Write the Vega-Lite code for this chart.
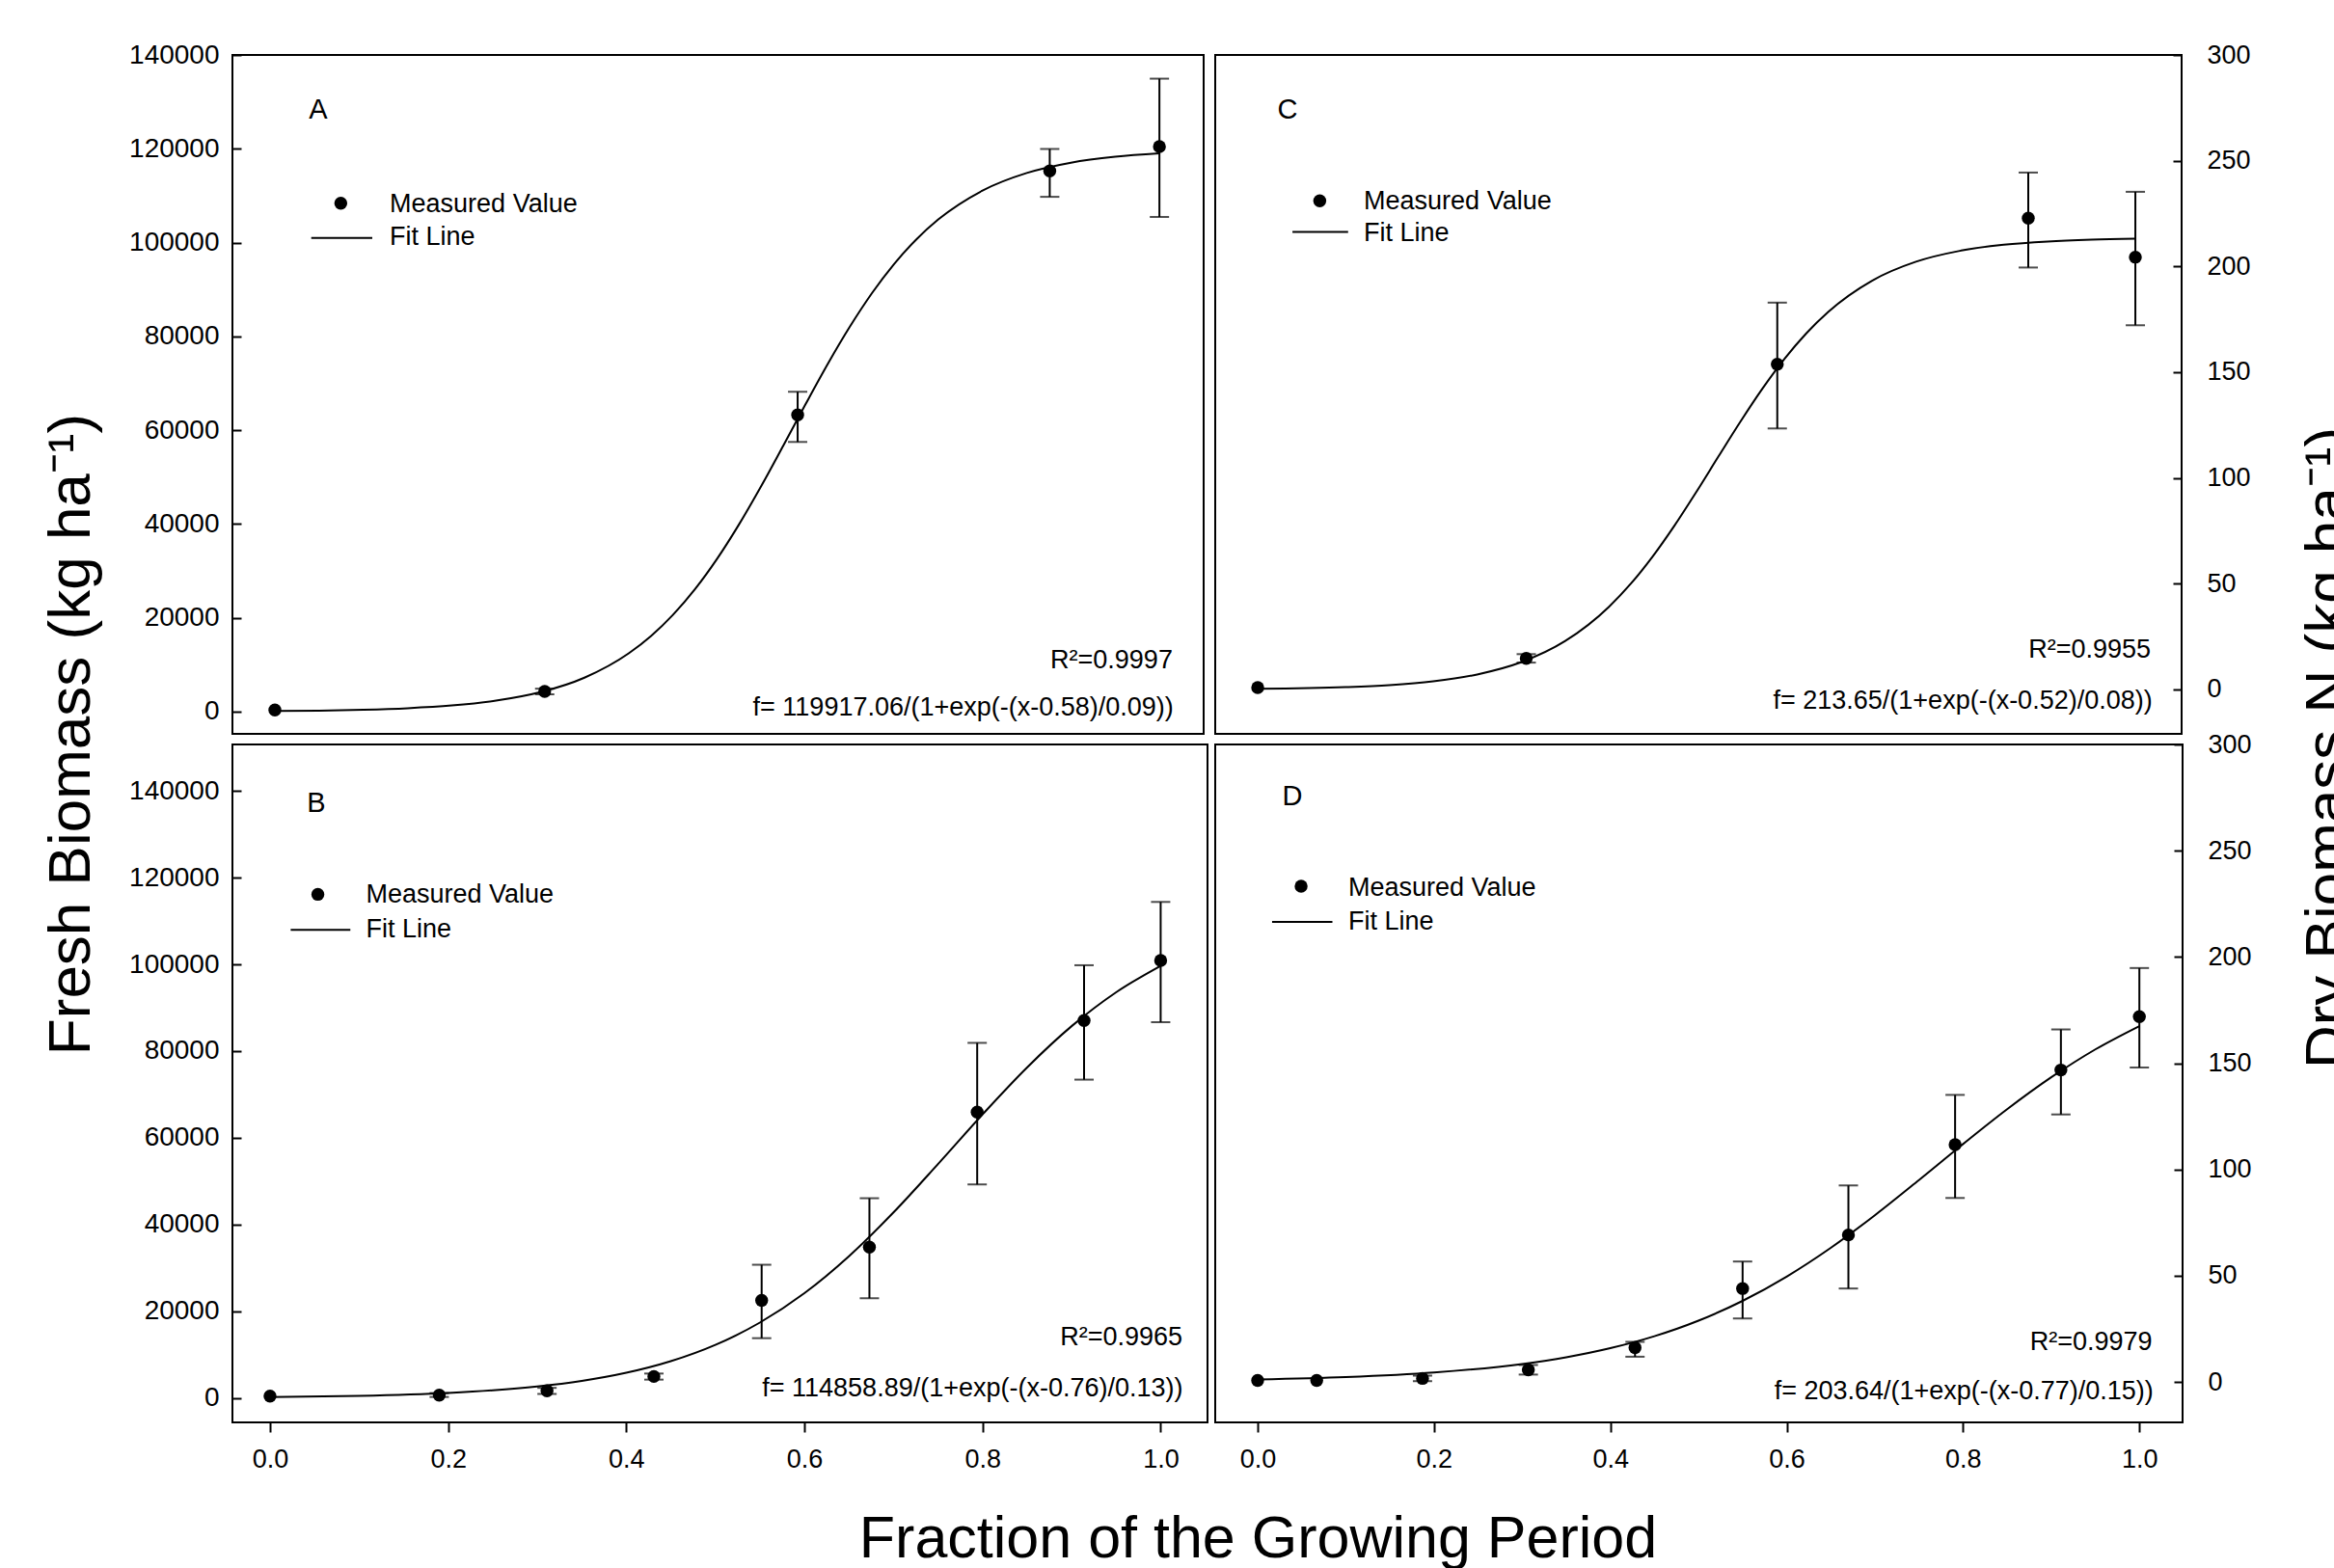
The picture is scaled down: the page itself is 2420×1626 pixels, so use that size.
{
  "$schema": "https://vega.github.io/schema/vega-lite/v6.json",
  "background": "white",
  "padding": {"left": 41, "top": 42, "right": 0, "bottom": 0},
  "columns": 2,
  "spacing": {"row": 11, "column": 8},
  "bounds": "flush",
  "config": {
    "font": "Liberation Sans",
    "view": {"stroke": "black", "strokeWidth": 2},
    "axis": {
      "grid": false, "domain": false, "labelFont": "Liberation Sans", "labelFontSize": 27,
      "labelColor": "black", "tickColor": "black", "tickWidth": 2, "labelFlush": false,
      "labelOverlap": false, "labelBound": false,
      "titleFont": "Liberation Sans", "titleFontWeight": "normal", "titleFontSize": 62, "titleColor": "black"
    }
  },
  "datasets": {
    "fitA": [
      {"x":0,"y":127},{"x":0.05,"y":229},{"x":0.1,"y":411},{"x":0.15,"y":735},{"x":0.2,"y":1315},{"x":0.25,"y":2342},{"x":0.3,"y":4147},{"x":0.35,"y":7251},{"x":0.4,"y":12433},{"x":0.425,"y":16096},{"x":0.45,"y":20636},{"x":0.475,"y":26131},{"x":0.5,"y":32613},{"x":0.525,"y":40012},{"x":0.55,"y":48160},{"x":0.575,"y":56803},{"x":0.6,"y":65564},{"x":0.625,"y":74105},{"x":0.65,"y":82060},{"x":0.675,"y":89216},{"x":0.7,"y":95423},{"x":0.725,"y":100647},{"x":0.75,"y":104930},{"x":0.8,"y":111087},{"x":0.85,"y":114836},{"x":0.9,"y":117038},{"x":0.95,"y":118297},{"x":1.0,"y":119010}
    ],
    "ptsA": [{"x":0,"y":350},{"x":0.305,"y":4300},{"x":0.591,"y":63270},{"x":0.876,"y":115270},{"x":1.0,"y":120470}],
    "errA": [{"x":0.305,"y":3700,"y2":4900},{"x":0.591,"y":57500,"y2":68200},{"x":0.876,"y":109760,"y2":119960},{"x":1.0,"y":105470,"y2":134950}],
    "tagA": [{"x":0.049,"y":128290,"label":"A"}],
    "legDotA": [{"x":0.0745,"y":108400}],
    "legLineA": [{"x":0.0411,"x2":0.1101,"y":101000}],
    "legTxtA": [{"x":0.1298,"y":108200,"label":"Measured Value"},{"x":0.1298,"y":101190,"label":"Fit Line"}],
    "statA": [{"x":1.015,"y":10835,"label":"R²=0.9997"},{"x":1.016,"y":720,"label":"f= 119917.06/(1+exp(-(x-0.58)/0.09))"}],

    "fitB": [
      {"x":0,"y":252},{"x":0.1,"y":559},{"x":0.2,"y":1238},{"x":0.25,"y":1836},{"x":0.3,"y":2718},{"x":0.35,"y":4008},{"x":0.4,"y":5878},{"x":0.45,"y":8553},{"x":0.5,"y":12309},{"x":0.55,"y":17443},{"x":0.6,"y":24216},{"x":0.65,"y":32732},{"x":0.7,"y":42826},{"x":0.75,"y":53985},{"x":0.8,"y":65417},{"x":0.85,"y":76235},{"x":0.9,"y":85747},{"x":0.95,"y":93562},{"x":1.0,"y":99652}
    ],
    "ptsB": [{"x":0,"y":490},{"x":0.19,"y":735},{"x":0.311,"y":1716},{"x":0.431,"y":5026},{"x":0.552,"y":22560},{"x":0.673,"y":34820},{"x":0.794,"y":65960},{"x":0.914,"y":87040},{"x":1.0,"y":100900}],
    "errB": [{"x":0.19,"y":300,"y2":1200},{"x":0.311,"y":1000,"y2":2400},{"x":0.431,"y":4300,"y2":5700},{"x":0.552,"y":13850,"y2":30770},{"x":0.673,"y":23050,"y2":46100},{"x":0.794,"y":49280,"y2":81900},{"x":0.914,"y":73430,"y2":99790},{"x":1.0,"y":86670,"y2":114380}],
    "tagB": [{"x":0.052,"y":137110,"label":"B"}],
    "legDotB": [{"x":0.0537,"y":116130}],
    "legLineB": [{"x":0.0232,"x2":0.0902,"y":107930}],
    "legTxtB": [{"x":0.1078,"y":116000,"label":"Measured Value"},{"x":0.1078,"y":107930,"label":"Fit Line"}],
    "statB": [{"x":1.0245,"y":14000,"label":"R²=0.9965"},{"x":1.025,"y":2222,"label":"f= 114858.89/(1+exp(-(x-0.76)/0.13))"}],

    "fitC": [
      {"x":0,"y":0.32},{"x":0.1,"y":1.12},{"x":0.15,"y":2.07},{"x":0.2,"y":3.84},{"x":0.25,"y":7.07},{"x":0.3,"y":12.84},{"x":0.35,"y":22.79},{"x":0.4,"y":38.97},{"x":0.425,"y":49.93},{"x":0.45,"y":62.86},{"x":0.475,"y":77.55},{"x":0.5,"y":93.54},{"x":0.525,"y":110.17},{"x":0.55,"y":126.62},{"x":0.575,"y":142.17},{"x":0.6,"y":156.19},{"x":0.625,"y":168.34},{"x":0.65,"y":178.5},{"x":0.7,"y":193.28},{"x":0.75,"y":202.24},{"x":0.8,"y":207.39},{"x":0.85,"y":210.25},{"x":0.9,"y":211.82},{"x":0.95,"y":212.67},{"x":1.0,"y":213.12}
    ],
    "ptsC": [{"x":0,"y":0.9},{"x":0.306,"y":14.7},{"x":0.592,"y":153.8},{"x":0.878,"y":222.8},{"x":1.0,"y":204.4}],
    "errC": [{"x":0.306,"y":12.7,"y2":16.7},{"x":0.592,"y":123.4,"y2":182.9},{"x":0.878,"y":199.5,"y2":244.4},{"x":1.0,"y":172.2,"y2":235.3}],
    "tagC": [{"x":0.034,"y":274,"label":"C"}],
    "legDotC": [{"x":0.0707,"y":231}],
    "legLineC": [{"x":0.0396,"x2":0.103,"y":216.3}],
    "legTxtC": [{"x":0.1209,"y":230.7,"label":"Measured Value"},{"x":0.1209,"y":215.7,"label":"Fit Line"}],
    "statC": [{"x":1.0176,"y":18.7,"label":"R²=0.9955"},{"x":1.0194,"y":-5.5,"label":"f= 213.65/(1+exp(-(x-0.52)/0.08))"}],

    "fitD": [
      {"x":0,"y":1.19},{"x":0.1,"y":2.31},{"x":0.2,"y":4.46},{"x":0.3,"y":8.5},{"x":0.35,"y":11.67},{"x":0.4,"y":15.94},{"x":0.45,"y":21.57},{"x":0.5,"y":28.89},{"x":0.55,"y":38.17},{"x":0.6,"y":49.6},{"x":0.65,"y":63.13},{"x":0.7,"y":78.48},{"x":0.75,"y":95.04},{"x":0.8,"y":111.96},{"x":0.85,"y":128.35},{"x":0.9,"y":143.36},{"x":0.95,"y":156.5},{"x":1.0,"y":167.49}
    ],
    "ptsD": [{"x":0,"y":0.75},{"x":0.067,"y":0.75},{"x":0.187,"y":1.7},{"x":0.307,"y":5.7},{"x":0.428,"y":16.2},{"x":0.55,"y":44.0},{"x":0.67,"y":69.2},{"x":0.791,"y":111.7},{"x":0.911,"y":146.8},{"x":1.0,"y":171.9}],
    "errD": [{"x":0.187,"y":0.4,"y2":3.0},{"x":0.307,"y":3.5,"y2":8.0},{"x":0.428,"y":11.9,"y2":18.9},{"x":0.55,"y":29.9,"y2":56.7},{"x":0.67,"y":44.0,"y2":92.5},{"x":0.791,"y":86.6,"y2":135.1},{"x":0.911,"y":125.9,"y2":165.9},{"x":1.0,"y":148.0,"y2":194.8}],
    "tagD": [{"x":0.0394,"y":275.5,"label":"D"}],
    "legDotD": [{"x":0.0493,"y":233.3}],
    "legLineD": [{"x":0.0164,"x2":0.0848,"y":216.5}],
    "legTxtD": [{"x":0.1028,"y":232.5,"label":"Measured Value"},{"x":0.1028,"y":216.5,"label":"Fit Line"}],
    "statD": [{"x":1.0147,"y":18.6,"label":"R²=0.9979"},{"x":1.016,"y":-4.5,"label":"f= 203.64/(1+exp(-(x-0.77)/0.15))"}]
  },
  "concat": [
    {
      "width": 1007, "height": 704,
      "encoding": {
        "x": {"field": "x", "type": "quantitative", "scale": {"domain": [-0.048, 1.05], "nice": false, "zero": false}, "axis": null},
        "y": {"field": "y", "type": "quantitative", "scale": {"domain": [-4730, 140000], "nice": false, "zero": false},
          "axis": {"orient": "left", "values": [0,20000,40000,60000,80000,100000,120000,140000], "format": "d", "tickSize": -9, "labelPadding": 23, "labelFontSize": 28,
            "title": "Fresh Biomass (kg ha⁻¹)", "titleAngle": 270, "titleX": -149, "titleY": 704, "titleAlign": "center", "titleBaseline": "alphabetic"}}
      },
      "layer": [
        {"data": {"name": "fitA"}, "mark": {"type": "line", "color": "black", "strokeWidth": 2, "interpolate": "monotone"}},
        {"data": {"name": "errA"}, "mark": {"type": "errorbar", "ticks": {"size": 20, "thickness": 2, "color": "black"}, "rule": {"strokeWidth": 2, "color": "black"}}, "encoding": {"y2": {"field": "y2"}}},
        {"data": {"name": "ptsA"}, "mark": {"type": "circle", "size": 180, "color": "black", "opacity": 1}},
        {"data": {"name": "legDotA"}, "mark": {"type": "circle", "size": 180, "color": "black", "opacity": 1}},
        {"data": {"name": "legLineA"}, "mark": {"type": "rule", "color": "black", "strokeWidth": 2}, "encoding": {"x2": {"field": "x2"}}},
        {"data": {"name": "legTxtA"}, "mark": {"type": "text", "align": "left", "baseline": "middle", "fontSize": 27, "font": "Liberation Sans", "color": "black"}, "encoding": {"text": {"field": "label"}}},
        {"data": {"name": "statA"}, "mark": {"type": "text", "align": "right", "baseline": "middle", "fontSize": 27, "font": "Liberation Sans", "color": "black"}, "encoding": {"text": {"field": "label"}}},
        {"data": {"name": "tagA"}, "mark": {"type": "text", "align": "center", "baseline": "middle", "fontSize": 29, "font": "Liberation Sans", "color": "black"}, "encoding": {"text": {"field": "label"}}}
      ]
    },
    {
      "width": 1002, "height": 704,
      "encoding": {
        "x": {"field": "x", "type": "quantitative", "scale": {"domain": [-0.0484, 1.0527], "nice": false, "zero": false}, "axis": null},
        "y": {"field": "y", "type": "quantitative", "scale": {"domain": [-21, 300], "nice": false, "zero": false},
          "axis": {"orient": "right", "values": [0,50,100,150,200,250,300], "format": "d", "tickSize": -9, "labelPadding": 35,
            "title": "Dry Biomass N (kg ha⁻¹)", "titleAngle": 270, "titleX": 170, "titleY": 718, "titleAlign": "center", "titleBaseline": "alphabetic"}}
      },
      "layer": [
        {"data": {"name": "fitC"}, "mark": {"type": "line", "color": "black", "strokeWidth": 2, "interpolate": "monotone"}},
        {"data": {"name": "errC"}, "mark": {"type": "errorbar", "ticks": {"size": 20, "thickness": 2, "color": "black"}, "rule": {"strokeWidth": 2, "color": "black"}}, "encoding": {"y2": {"field": "y2"}}},
        {"data": {"name": "ptsC"}, "mark": {"type": "circle", "size": 180, "color": "black", "opacity": 1}},
        {"data": {"name": "legDotC"}, "mark": {"type": "circle", "size": 180, "color": "black", "opacity": 1}},
        {"data": {"name": "legLineC"}, "mark": {"type": "rule", "color": "black", "strokeWidth": 2}, "encoding": {"x2": {"field": "x2"}}},
        {"data": {"name": "legTxtC"}, "mark": {"type": "text", "align": "left", "baseline": "middle", "fontSize": 27, "font": "Liberation Sans", "color": "black"}, "encoding": {"text": {"field": "label"}}},
        {"data": {"name": "statC"}, "mark": {"type": "text", "align": "right", "baseline": "middle", "fontSize": 27, "font": "Liberation Sans", "color": "black"}, "encoding": {"text": {"field": "label"}}},
        {"data": {"name": "tagC"}, "mark": {"type": "text", "align": "center", "baseline": "middle", "fontSize": 29, "font": "Liberation Sans", "color": "black"}, "encoding": {"text": {"field": "label"}}}
      ]
    },
    {
      "width": 1011, "height": 703,
      "encoding": {
        "x": {"field": "x", "type": "quantitative", "scale": {"domain": [-0.0422, 1.0526], "nice": false, "zero": false},
          "axis": {"orient": "bottom", "values": [0,0.2,0.4,0.6,0.8,1.0], "format": ".1f", "tickSize": 10, "labelPadding": 15,
            "title": "Fraction of the Growing Period", "titleX": 1063, "titleY": 139, "titleAlign": "center", "titleBaseline": "alphabetic", "titleAngle": 0, "titleFontSize": 61}},
        "y": {"field": "y", "type": "quantitative", "scale": {"domain": [-5556, 150667], "nice": false, "zero": false},
          "axis": {"orient": "left", "values": [0,20000,40000,60000,80000,100000,120000,140000], "format": "d", "tickSize": -9, "labelPadding": 23, "labelFontSize": 28, "title": null}}
      },
      "layer": [
        {"data": {"name": "fitB"}, "mark": {"type": "line", "color": "black", "strokeWidth": 2, "interpolate": "monotone"}},
        {"data": {"name": "errB"}, "mark": {"type": "errorbar", "ticks": {"size": 20, "thickness": 2, "color": "black"}, "rule": {"strokeWidth": 2, "color": "black"}}, "encoding": {"y2": {"field": "y2"}}},
        {"data": {"name": "ptsB"}, "mark": {"type": "circle", "size": 180, "color": "black", "opacity": 1}},
        {"data": {"name": "legDotB"}, "mark": {"type": "circle", "size": 180, "color": "black", "opacity": 1}},
        {"data": {"name": "legLineB"}, "mark": {"type": "rule", "color": "black", "strokeWidth": 2}, "encoding": {"x2": {"field": "x2"}}},
        {"data": {"name": "legTxtB"}, "mark": {"type": "text", "align": "left", "baseline": "middle", "fontSize": 27, "font": "Liberation Sans", "color": "black"}, "encoding": {"text": {"field": "label"}}},
        {"data": {"name": "statB"}, "mark": {"type": "text", "align": "right", "baseline": "middle", "fontSize": 27, "font": "Liberation Sans", "color": "black"}, "encoding": {"text": {"field": "label"}}},
        {"data": {"name": "tagB"}, "mark": {"type": "text", "align": "center", "baseline": "middle", "fontSize": 29, "font": "Liberation Sans", "color": "black"}, "encoding": {"text": {"field": "label"}}}
      ]
    },
    {
      "width": 1003, "height": 703,
      "encoding": {
        "x": {"field": "x", "type": "quantitative", "scale": {"domain": [-0.0481, 1.049], "nice": false, "zero": false},
          "axis": {"orient": "bottom", "values": [0,0.2,0.4,0.6,0.8,1.0], "format": ".1f", "tickSize": 10, "labelPadding": 15, "title": null}},
        "y": {"field": "y", "type": "quantitative", "scale": {"domain": [-19, 300], "nice": false, "zero": false},
          "axis": {"orient": "right", "values": [0,50,100,150,200,250,300], "format": "d", "tickSize": -9, "labelPadding": 35, "title": null}}
      },
      "layer": [
        {"data": {"name": "fitD"}, "mark": {"type": "line", "color": "black", "strokeWidth": 2, "interpolate": "monotone"}},
        {"data": {"name": "errD"}, "mark": {"type": "errorbar", "ticks": {"size": 20, "thickness": 2, "color": "black"}, "rule": {"strokeWidth": 2, "color": "black"}}, "encoding": {"y2": {"field": "y2"}}},
        {"data": {"name": "ptsD"}, "mark": {"type": "circle", "size": 180, "color": "black", "opacity": 1}},
        {"data": {"name": "legDotD"}, "mark": {"type": "circle", "size": 180, "color": "black", "opacity": 1}},
        {"data": {"name": "legLineD"}, "mark": {"type": "rule", "color": "black", "strokeWidth": 2}, "encoding": {"x2": {"field": "x2"}}},
        {"data": {"name": "legTxtD"}, "mark": {"type": "text", "align": "left", "baseline": "middle", "fontSize": 27, "font": "Liberation Sans", "color": "black"}, "encoding": {"text": {"field": "label"}}},
        {"data": {"name": "statD"}, "mark": {"type": "text", "align": "right", "baseline": "middle", "fontSize": 27, "font": "Liberation Sans", "color": "black"}, "encoding": {"text": {"field": "label"}}},
        {"data": {"name": "tagD"}, "mark": {"type": "text", "align": "center", "baseline": "middle", "fontSize": 29, "font": "Liberation Sans", "color": "black"}, "encoding": {"text": {"field": "label"}}}
      ]
    }
  ]
}
